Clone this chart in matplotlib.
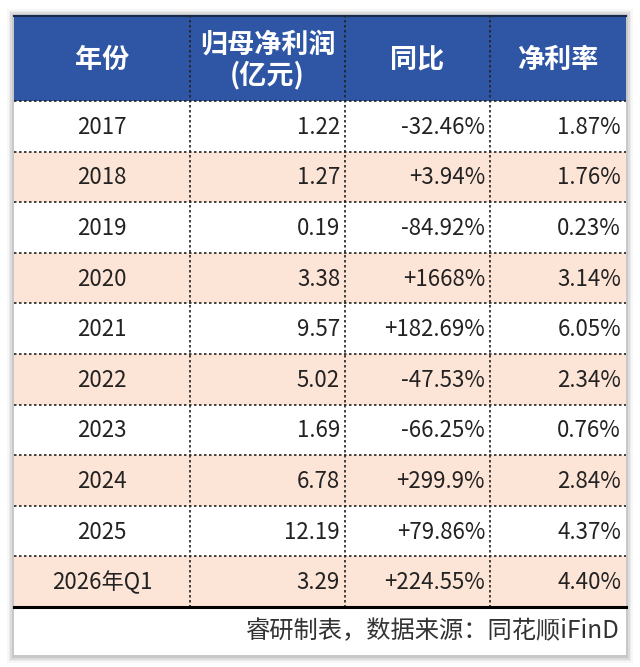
import matplotlib
matplotlib.use('Agg')
import matplotlib.pyplot as plt
from matplotlib.patches import Rectangle

plt.rcParams['font.family'] = ['Noto Sans CJK SC', 'DejaVu Sans']

# Données du tableau
headers = ['年份', '归母净利润\n(亿元)', '同比', '净利率']
years = ['2017', '2018', '2019', '2020', '2021', '2022', '2023', '2024', '2025', '2026年Q1']
profit = [1.22, 1.27, 0.19, 3.38, 9.57, 5.02, 1.69, 6.78, 12.19, 3.29]
yoy = ['-32.46%', '+3.94%', '-84.92%', '+1668%', '+182.69%', '-47.53%',
       '-66.25%', '+299.9%', '+79.86%', '+224.55%']
margin = [1.87, 1.76, 0.23, 3.14, 6.05, 2.34, 0.76, 2.84, 4.37, 4.40]
source = '睿研制表，数据来源：同花顺iFinD'

# Mise en page (pixels)
W, H = 640, 667
col_x = [14, 190, 345, 490, 626]
top, head_bot = 15, 101
row_h = 50.6
blue = '#2E56A5'
peach = '#FCE4D6'
txt_color = '#222222'

fig = plt.figure(figsize=(W / 100, H / 100), dpi=100)
ax = fig.add_axes([0, 0, 1, 1])
ax.set_xlim(0, W)
ax.set_ylim(H, 0)
ax.axis('off')

# Ombre du cadre
for i, a in enumerate([0.05, 0.08, 0.12, 0.18]):
    d = 7 - i * 1.7
    ax.add_patch(Rectangle((col_x[0] - d, top - d + 1), col_x[-1] - col_x[0] + 2 * d,
                           655 - top + 2 * d, facecolor='#707070', alpha=a,
                           edgecolor='none'))
ax.add_patch(Rectangle((col_x[0], top), col_x[-1] - col_x[0], 655 - top,
                       facecolor='white', edgecolor='none'))

# En-tête
ax.add_patch(Rectangle((col_x[0], top), col_x[-1] - col_x[0], head_bot - top,
                       facecolor=blue, edgecolor='none'))
ax.plot([col_x[0], col_x[-1]], [top + 1, top + 1], color='#1a2a4a', lw=1.5)
for j, h in enumerate(headers):
    cx = (col_x[j] + col_x[j + 1]) / 2
    ax.text(cx, (top + head_bot) / 2 + 2, h, ha='center', va='center',
            color='white', fontsize=19.5, fontweight='bold', linespacing=1.1)

# Lignes de données
rows_bot = head_bot + row_h * len(years)
for i in range(len(years)):
    y0 = head_bot + i * row_h
    if i % 2 == 1:
        ax.add_patch(Rectangle((col_x[0], y0), col_x[-1] - col_x[0], row_h,
                               facecolor=peach, edgecolor='none'))
    yc = y0 + row_h / 2 + 1
    ax.text((col_x[0] + col_x[1]) / 2, yc, years[i], ha='center', va='center',
            color=txt_color, fontsize=16)
    ax.text(col_x[2] - 5, yc, f'{profit[i]:.2f}', ha='right', va='center',
            color=txt_color, fontsize=16)
    ax.text(col_x[3] - 5, yc, yoy[i], ha='right', va='center',
            color=txt_color, fontsize=16)
    ax.text(col_x[4] - 5, yc, f'{margin[i]:.2f}%', ha='right', va='center',
            color=txt_color, fontsize=16)
    if i > 0:
        ax.plot([col_x[0], col_x[-1]], [y0, y0], color='#222222', lw=1.2,
                linestyle=(0, (1.5, 1.5)))

ax.plot([col_x[0], col_x[-1]], [head_bot, head_bot], color='#222222', lw=1.2,
        linestyle=(0, (1.5, 1.5)))

# Séparateurs verticaux
for x in col_x[1:-1]:
    ax.plot([x, x], [top, rows_bot], color='#222222', lw=1.2,
            linestyle=(0, (1.5, 1.5)))

# Ligne épaisse sous le tableau
ax.plot([col_x[0], col_x[-1]], [rows_bot, rows_bot], color='black', lw=2.2)

# Source
ax.text(col_x[-1] - 6, 631, source, ha='right', va='center',
        color='#333333', fontsize=17.5)

fig.savefig('out.png', dpi=100)
